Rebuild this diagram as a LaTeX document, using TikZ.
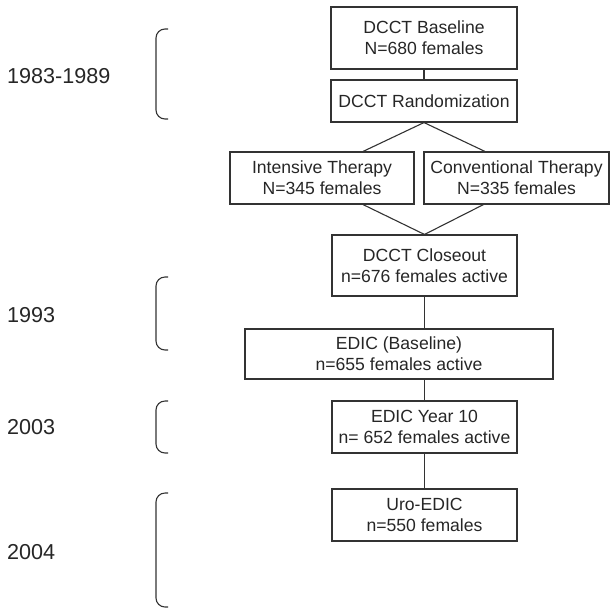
\documentclass[tikz,border=0pt]{standalone}
\usepackage{fontspec}
\setmainfont{Liberation Sans}
\usetikzlibrary{positioning}

\begin{document}
\begin{tikzpicture}[
        x=1pt, y=-1pt,
        stage/.style={draw=black!80, line width=1.1pt, align=center, inner sep=0pt,
            font=\fontsize{17.6}{21}\selectfont, text=black!85},
        period/.style={anchor=west, inner sep=0pt, font=\fontsize{21.6}{25}\selectfont, text=black!85},
        link/.style={draw=black!80, line width=1.1pt},
        brace/.style={draw=black!80, line width=1.1pt, rounded corners=9pt}
    ]
        \useasboundingbox (0,0) rectangle (615,614);
        % DCCT
        \node[stage, minimum width=186pt, minimum height=62pt] (base) at (424,38) {DCCT Baseline\\N=680 females};
        \node[stage, minimum width=186pt, minimum height=42pt] (rand) at (424,101) {DCCT Randomization};
        \node[stage, minimum width=184pt, minimum height=52pt] (int) at (322,178) {Intensive Therapy\\N=345 females};
        \node[stage, minimum width=185pt, minimum height=52pt] (conv) at (516.5,178) {Conventional Therapy\\N=335 females};
        \node[stage, minimum width=185pt, minimum height=61pt] (close) at (424.5,265.5) {DCCT Closeout\\n=676 females active};
        % EDIC
        \node[stage, minimum width=308pt, minimum height=50pt] (edicb) at (399,354) {EDIC (Baseline)\\n=655 females active};
        \node[stage, minimum width=185pt, minimum height=52pt] (yten) at (424.5,427) {EDIC Year 10\\n= 652 females active};
        \node[stage, minimum width=185pt, minimum height=52pt] (uro) at (424.5,515) {Uro-EDIC\\n=550 females};
        \draw[link] (base.south) -- (rand.north);
        \draw[link] ([xshift=41pt]int.north) -- (rand.south) -- ([xshift=-31.5pt]conv.north);
        \draw[link] ([xshift=41pt]int.south) -- (close.north) -- ([xshift=-33pt]conv.south);
        \draw[link] (close.south) -- (close.south |- edicb.north);
        \draw[link] (yten.north |- edicb.south) -- (yten.north);
        \draw[link] (yten.south) -- (uro.north);
        % Periods
        \draw[brace] (168,29) -- (156,29) -- (156,119) -- (168,119);
        \draw[brace] (168,277) -- (156,277) -- (156,350) -- (168,350);
        \draw[brace] (168,401) -- (156,401) -- (156,453) -- (168,453);
        \draw[brace] (168,493) -- (156,493) -- (156,607) -- (168,607);
        \node[period] (p1) at (7,76) {1983-1989};
        \node[period] (p2) at (7,315) {1993};
        \node[period] (p3) at (7,427) {2003};
        \node[period] (p4) at (7,552) {2004};
    \end{tikzpicture}
\end{document}
